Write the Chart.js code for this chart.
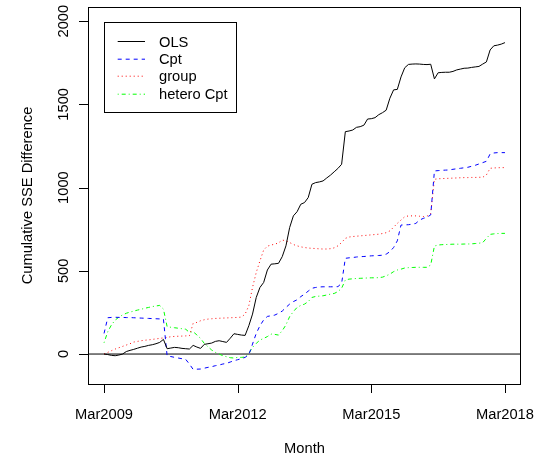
<!DOCTYPE html>
<html>
<head>
<meta charset="utf-8">
<script src="https://cdn.jsdelivr.net/npm/chart.js@4/dist/chart.umd.min.js"></script>
<style>
  body { margin: 0; background: #fff; }
  canvas { display: block; }
</style>
</head>
<body>
<canvas id="sseChart" width="541" height="460"></canvas>
<script>
// Months since Mar2009, one value per month (Mar2009 .. Mar2018)
const tickMonths = [0, 36, 72, 108];
const tickLabels = ['Mar2009', 'Mar2012', 'Mar2015', 'Mar2018'];
const yTicks = [0, 500, 1000, 1500, 2000];

const seriesNames = ['OLS', 'Cpt', 'group', 'hetero Cpt'];

const olsValues = [
  0, -3, -8, -10, -6, 0, 15, 22, 28, 35, 42, 46, 52, 56, 62, 70, 88, 32, 36, 40,
  38, 34, 32, 30, 52, 42, 34, 58, 62, 66, 76, 80, 75, 70, 95, 122, 118, 114, 112, 170,
  240, 340, 400, 430, 505, 540, 542, 545, 585, 650, 760, 830, 855, 900, 910, 940, 1020, 1030, 1034, 1040,
  1058, 1075, 1095, 1115, 1140, 1336, 1340, 1346, 1362, 1366, 1375, 1412, 1414, 1420, 1438, 1450, 1465, 1537, 1587, 1590,
  1665, 1720, 1740, 1742, 1743, 1742, 1740, 1739, 1741, 1653, 1690, 1692, 1693, 1693, 1698, 1707, 1712, 1717, 1718, 1722,
  1725, 1728, 1742, 1755, 1827, 1852, 1856, 1862, 1871
];

const cptValues = [
  124, 218, 220, 221, 220, 220, 219, 219, 218, 217, 216, 215, 214, 213, 212, 211, 210, -12, -15, -20,
  -24, -28, -32, -60, -92, -91, -90, -85, -80, -76, -70, -66, -60, -56, -48, -40, -34, -28, -20, -5,
  60, 124, 170, 205, 226, 230, 234, 245, 258, 280, 300, 315, 326, 345, 360, 378, 395, 400, 403, 404,
  404, 404, 404, 405, 425, 575, 578, 580, 583, 585, 586, 588, 590, 591, 592, 594, 600, 615, 640, 680,
  775, 776, 777, 780, 785, 805, 815, 822, 836, 1100, 1102, 1104, 1105, 1106, 1110, 1113, 1116, 1119, 1122, 1128,
  1134, 1142, 1150, 1158, 1202, 1208, 1210, 1210, 1210
];

const groupValues = [
  0, 10, 20, 30, 38, 46, 54, 62, 72, 76, 80, 83, 85, 88, 91, 94, 97, 100, 104, 106,
  107, 108, 109, 110, 184, 190, 200, 206, 210, 212, 214, 215, 216, 217, 218, 219, 220, 222, 240, 290,
  400, 490, 560, 625, 648, 655, 660, 668, 685, 680, 670, 658, 650, 644, 640, 637, 635, 634, 632, 631,
  631, 633, 638, 650, 670, 695, 703, 706, 708, 710, 712, 714, 716, 718, 720, 724, 729, 740, 762, 785,
  805, 825, 830, 830, 830, 828, 826, 828, 845, 1050, 1053, 1054, 1055, 1056, 1057, 1058, 1059, 1060, 1060, 1061,
  1061, 1062, 1062, 1076, 1116, 1118, 1119, 1120, 1120
];

const heteroValues = [
  68, 134, 175, 204, 222, 235, 245, 252, 258, 264, 269, 275, 280, 285, 289, 292, 270, 164, 161, 158,
  155, 152, 149, 130, 134, 115, 94, 64, 44, 24, 10, 0, -10, -16, -22, -24, -20, -20, -18, 4,
  40, 64, 84, 94, 105, 120, 118, 114, 140, 175, 225, 255, 280, 292, 300, 315, 340, 346, 348, 350,
  355, 360, 364, 375, 395, 445, 450, 452, 454, 455, 456, 457, 458, 458, 459, 462, 470, 480, 495, 505,
  510, 517, 519, 520, 521, 521, 521, 521, 535, 649, 655, 657, 658, 659, 660, 660, 660, 661, 661, 662,
  664, 666, 669, 695, 719, 722, 724, 725, 725
];

const seriesColors = ['#000000', '#0000ff', '#ff0000', '#00ff00'];
const seriesDashes = [[], [4, 4], [1, 3], [1, 3, 4, 3]];

const FONT = '14.7px "Liberation Sans", Arial, Helvetica, sans-serif';

function toPoints(values) {
  return values.map((v, i) => ({ x: i, y: v }));
}

const allSeries = [olsValues, cptValues, groupValues, heteroValues];

const datasets = allSeries.map((vals, i) => ({
  label: seriesNames[i],
  data: toPoints(vals),
  borderColor: seriesColors[i],
  borderDash: seriesDashes[i],
  borderWidth: 1,
  pointRadius: 0,
  tension: 0,
  fill: false
}));

// horizontal reference line at zero
datasets.push({
  label: 'zero',
  data: [{ x: -4.32, y: 0 }, { x: 112.32, y: 0 }],
  borderColor: '#000000',
  borderWidth: 1,
  pointRadius: 0,
  fill: false
});

// R style box, ticks, rotated labels and legend
const rLook = {
    id: 'rLook',
    afterDraw(chart) {
        const ctx = chart.ctx;
        const a = chart.chartArea;
        const xs = chart.scales.x;
        const ys = chart.scales.y;
        ctx.save();
        ctx.strokeStyle = '#000';
        ctx.lineWidth = 1;
        ctx.setLineDash([]);

        // plot box
        ctx.strokeRect(a.left + 0.5, a.top + 0.5, a.right - a.left - 1, a.bottom - a.top);

        ctx.fillStyle = '#000';
        ctx.font = FONT;

        // x ticks
        ctx.beginPath();
        tickMonths.forEach(m => {
            const px = Math.round(xs.getPixelForValue(m)) + 0.5;
            ctx.moveTo(px, a.bottom);
            ctx.lineTo(px, a.bottom + 9);
        });
        ctx.moveTo(Math.round(xs.getPixelForValue(tickMonths[0])) + 0.5, a.bottom + 0.5);
        ctx.lineTo(Math.round(xs.getPixelForValue(tickMonths[tickMonths.length - 1])) + 0.5, a.bottom + 0.5);
        ctx.stroke();
        ctx.textAlign = 'center';
        ctx.textBaseline = 'alphabetic';
        tickMonths.forEach((m, i) => {
            ctx.fillText(tickLabels[i], xs.getPixelForValue(m), 419);
        });
        ctx.fillText('Month', (a.left + a.right) / 2, 453);

        // y ticks
        ctx.beginPath();
        yTicks.forEach(v => {
            const py = Math.round(ys.getPixelForValue(v)) + 0.5;
            ctx.moveTo(a.left - 9, py);
            ctx.lineTo(a.left, py);
        });
        ctx.stroke();
        yTicks.forEach(v => {
            ctx.save();
            ctx.translate(68.3, ys.getPixelForValue(v));
            ctx.rotate(-Math.PI / 2);
            ctx.fillText(String(v), 0, 0);
            ctx.restore();
        });
        ctx.save();
        ctx.translate(31.5, (a.top + a.bottom) / 2);
        ctx.rotate(-Math.PI / 2);
        ctx.fillText('Cumulative SSE Difference', 0, 0);
        ctx.restore();

        // legend
        const lx = a.left + 16.3, ly = a.top + 14.7;
        ctx.fillStyle = '#fff';
        ctx.fillRect(lx, ly, 132.4, 90);
        ctx.strokeRect(Math.round(lx) + 0.5, Math.round(ly) + 0.5, 132, 90);
        ctx.textAlign = 'left';
        ctx.fillStyle = '#000';
        seriesNames.forEach((name, i) => {
            // coloured samples sit off the pixel grid so they blur a bit like the R device
            const yy = Math.round(ly + 19 + i * 17.8) + (i === 0 ? 0.5 : 0.2);
            ctx.strokeStyle = seriesColors[i];
            ctx.setLineDash(seriesDashes[i]);
            ctx.beginPath();
            ctx.moveTo(lx + 13.4, yy);
            ctx.lineTo(lx + 40.7, yy);
            ctx.stroke();
            ctx.setLineDash([]);
            ctx.fillText(name, lx + 54.7, Math.round(yy) + 4.5);
        });
        ctx.restore();
    }
};

new Chart(document.getElementById('sseChart'), {
    type: 'line',
    data: { datasets: datasets },
    options: {
        responsive: false,
        animation: false,
        layout: { padding: { top: 7, right: 20, left: 0, bottom: 0 } },
        plugins: {
            legend: { display: false },
            tooltip: { enabled: false }
        },
        scales: {
            x: {
                type: 'linear',
                min: -4.32,
                max: 112.32,
                afterBuildTicks: s => { s.ticks = tickMonths.map(v => ({ value: v })); },
                afterFit: s => { s.height = 76; },
                ticks: { display: false },
                grid: { display: false },
                border: { display: false }
            },
            y: {
                type: 'linear',
                min: -180,
                max: 2085,
                afterBuildTicks: s => { s.ticks = yTicks.map(v => ({ value: v })); },
                afterFit: s => { s.width = 88; },
                ticks: { display: false },
                grid: { display: false },
                border: { display: false }
            }
        }
    },
    plugins: [rLook]
});
</script>
</body>
</html>
